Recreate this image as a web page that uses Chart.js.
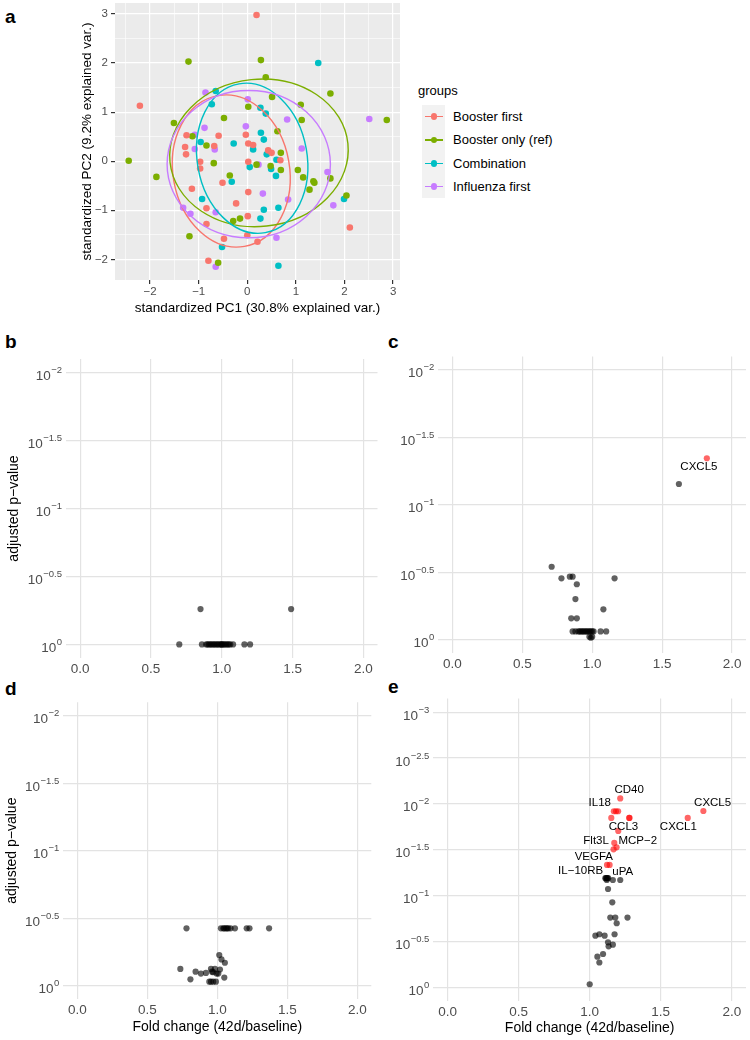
<!DOCTYPE html>
<html>
<head>
<meta charset="utf-8">
<script src="https://cdn.jsdelivr.net/npm/chart.js@4.4.1/dist/chart.umd.min.js"></script>
<style>
  body { margin: 0; width: 750px; height: 1040px; background: #fff; position: relative; overflow: hidden;
         font-family: "Liberation Sans", Arial, sans-serif; }
  canvas { position: absolute; }
  .tag { position: absolute; font-weight: bold; font-size: 19px; line-height: 19px; color: #000; }
  .legend-title { position: absolute; left: 418px; top: 83px; font-size: 13px; line-height: 15px; }
  .legend-keys { position: absolute; left: 422px; top: 105px; width: 23px; height: 93px; background: #F2F2F2; }
  .legend-item { position: absolute; left: 0; height: 23.3px; width: 200px; }
  .legend-item .line { position: absolute; left: 3px; width: 18px; height: 1.4px; top: 11px; }
  .legend-item .dot { position: absolute; left: 8.5px; top: 8.4px; width: 6.6px; height: 6.6px; border-radius: 50%; }
  .legend-item .txt { position: absolute; left: 31px; top: 0; font-size: 13px; line-height: 23.3px; white-space: nowrap; }
</style>
</head>
<body>
<div class="tag" style="left:5px;top:7px">a</div>
<div class="tag" style="left:5px;top:332px">b</div>
<div class="tag" style="left:388px;top:332px">c</div>
<div class="tag" style="left:5px;top:679px">d</div>
<div class="tag" style="left:388px;top:677px">e</div>

<canvas id="pca" width="340" height="330" style="left:70px;top:-10px"></canvas>
<div class="legend-title">groups</div>
<div class="legend-keys" id="legend"></div>

<canvas id="panelB" width="390" height="350" style="left:0px;top:340px"></canvas>
<canvas id="panelC" width="375" height="350" style="left:375px;top:340px"></canvas>
<canvas id="panelD" width="385" height="360" style="left:0px;top:680px"></canvas>
<canvas id="panelE" width="375" height="360" style="left:375px;top:680px"></canvas>

<script>
const FONT = '"Liberation Sans", Arial, sans-serif'

// ---- panel a: PCA ----
const groupNames = ['Booster first', 'Booster only (ref)', 'Combination', 'Influenza first']
const groupColors = ['#F8766D', '#7CAE00', '#00BFC4', '#C77CFF']

const boosterFirstPC1 = [0.19, -2.21, -1.25, -1.28, -1.26, -0.97, -0.97, -0.68, -0.59, -1.14, -0.51, -0.84, -0.84, -0.48, -0.80, -0.23, -0.03, 0.02, 0.12, 0.02, 0.02, 0.01, 0.00, 0.21, 0.43, 0.50, 0.68, 2.11]
const boosterFirstPC2 = [2.98, 1.13, 0.53, 0.29, 0.14, -0.01, -0.15, 0.31, 0.52, -0.56, -0.44, -0.96, -1.28, -1.58, -2.03, -0.86, 0.54, 0.36, 0.33, -0.01, -0.63, -1.12, -1.51, -1.64, 0.22, 0.17, 0.02, -1.35]
const boosterOnlyPC1 = [-2.44, -1.87, -1.51, -1.21, -1.19, -1.13, -0.84, -0.69, -0.48, -0.36, -0.29, -0.15, -0.60, 0.02, 0.19, 0.28, 0.38, 0.51, 0.62, 0.48, 0.69, 0.69, 1.04, 1.10, 1.12, 1.15, 1.28, 1.36, 1.38, 1.71, 1.71, 2.04, 2.87]
const boosterOnlyPC2 = [0.01, -0.32, 0.78, 2.03, -1.53, 0.51, 0.32, -0.04, 0.88, -0.29, -1.22, -1.17, -2.07, 1.11, -0.07, 2.06, 1.71, 1.31, 0.61, -0.10, -0.18, 0.17, -0.18, 1.15, 0.84, -0.33, -0.58, -0.41, -0.44, 1.38, -0.35, -0.70, 0.84]
const combinationPC1 = [-0.65, -0.73, -0.96, -0.93, -0.52, -0.28, -0.32, 0.05, 0.12, 0.27, 0.38, 0.28, 0.34, 0.40, 0.49, 0.59, 0.60, 0.34, 0.27, 0.64, 0.64, 1.46, 1.99]
const combinationPC2 = [1.43, 1.16, 0.39, -0.77, -1.75, 0.36, -0.42, -0.12, 0.24, 1.09, 0.97, 0.58, 0.44, 0.14, -0.16, -0.30, 0.03, -0.99, -1.17, -0.95, -2.13, 2.00, -0.77]
const influenzaFirstPC1 = [-0.86, -0.88, -1.08, -1.08, -0.67, -1.32, -1.17, -0.65, -0.65, 0.01, -0.03, 0.23, 0.32, 0.60, 0.82, 0.84, 1.12, 1.65, 1.77, 2.51]
const influenzaFirstPC2 = [1.40, 0.68, 0.54, 0.25, 0.24, -0.95, -1.07, -1.04, -2.15, 1.26, 0.71, -0.07, -0.66, -1.56, 0.85, -0.78, 0.26, -0.22, -0.90, 0.86]

// normal-data ellipses, one per group (centre, semi-axes in PC units, tilt in degrees)
const ellipseCx = [-0.33, 0.24, 0.10, 0.03]
const ellipseCy = [-0.20, 0.17, 0.06, -0.06]
const ellipseRx = [1.20, 1.84, 1.13, 1.68]
const ellipseRy = [1.56, 1.50, 1.54, 1.50]
const ellipseTilt = [-10, -6, -10, 0]

const pcaTicks = [-2, -1, 0, 1, 2, 3]

// ---- panels b-e: fold change vs adjusted p-value (stored as -log10 p) ----
const foldTicks = [0, 0.5, 1, 1.5, 2]
const expTicksBCD = [0, 0.5, 1, 1.5, 2]
const expTicksE = [0, 0.5, 1, 1.5, 2, 2.5, 3]

const bFold = [0.70, 0.86, 0.89, 0.90, 0.91, 0.92, 0.93, 0.94, 0.95, 0.96, 0.97, 0.98, 0.99, 1.00, 1.00, 1.01, 1.02, 1.03, 1.04, 1.05, 1.06, 1.08, 1.16, 1.20, 0.85, 1.49]
const bNegLogP = [0, 0, 0, 0, 0, 0, 0, 0, 0, 0, 0, 0, 0, 0, 0, 0, 0, 0, 0, 0, 0, 0, 0, 0, 0.26, 0.26]

const cFold = [1.62, 0.71, 0.78, 0.84, 0.86, 0.89, 0.88, 1.16, 1.08, 0.85, 0.89, 0.86, 0.88, 0.90, 0.91, 0.92, 0.93, 0.94, 0.95, 0.96, 0.97, 0.98, 0.99, 1.00, 1.01, 1.06, 1.10, 0.98, 0.99, 1.00]
const cNegLogP = [1.154, 0.54, 0.454, 0.466, 0.466, 0.41, 0.30, 0.454, 0.224, 0.157, 0.157, 0.06, 0.06, 0.06, 0.06, 0.06, 0.06, 0.06, 0.06, 0.06, 0.06, 0.06, 0.06, 0.06, 0.06, 0.06, 0.06, 0.02, 0.013, 0.02]
const cSigFold = [1.82]
const cSigNegLogP = [1.345]
const cLabelText = ['CXCL5']
const cLabelFold = [1.763]
const cLabelNegLogP = [1.282]

const dFold = [0.78, 1.026, 1.043, 1.05, 1.062, 1.07, 1.079, 1.095, 1.126, 1.21, 1.23, 1.37, 0.736, 0.808, 0.845, 0.883, 0.919, 0.955, 0.962, 0.943, 0.955, 0.971, 0.99, 0.995, 1.019, 1.014, 1.03, 1.054, 1.05, 0.983, 1.007, 0.97]
const dNegLogP = [0.425, 0.425, 0.425, 0.425, 0.425, 0.425, 0.425, 0.425, 0.425, 0.425, 0.425, 0.425, 0.124, 0.047, 0.104, 0.09, 0.095, 0.124, 0.104, 0.03, 0.03, 0.03, 0.03, 0.09, 0.12, 0.227, 0.195, 0.17, 0.06, 0.124, 0.09, 0.10]

const eFold = [1.11, 1.115, 1.12, 1.125, 1.13, 1.12, 1.163, 1.215, 1.129, 1.159, 1.145, 1.18, 1.266, 1.19, 1.04, 1.068, 1.105, 1.175, 1.129, 1.133, 1.163, 1.094, 1.054, 1.068, 1.0]
const eNegLogP = [1.19, 1.19, 1.19, 1.19, 1.19, 1.17, 1.17, 1.17, 1.072, 0.927, 0.76, 0.76, 0.76, 0.698, 0.563, 0.578, 0.563, 0.578, 0.49, 0.447, 0.465, 0.363, 0.334, 0.27, 0.033]
const eSigFold = [1.215, 1.17, 1.185, 1.2, 1.152, 1.278, 1.28, 1.201, 1.173, 1.189, 1.168, 1.122, 1.14, 1.69, 1.80]
const eSigNegLogP = [2.06, 1.92, 1.92, 1.92, 1.847, 1.847, 1.847, 1.705, 1.574, 1.527, 1.505, 1.334, 1.334, 1.847, 1.923]
const eLabelText = ['CD40', 'IL18', 'CCL3', 'Flt3L', 'MCP\u22122', 'VEGFA', 'IL\u221210RB', 'uPA', 'CXCL1', 'CXCL5']
const eLabelFold = [1.278, 1.071, 1.238, 1.045, 1.338, 1.029, 0.936, 1.233, 1.624, 1.865]
const eLabelNegLogP = [2.154, 2.007, 1.752, 1.599, 1.599, 1.425, 1.269, 1.261, 1.745, 2.007]

function toPoints(xs, ys) {
    return xs.map((v, i) => ({x: v, y: ys[i]}))
}
function minus(v) {
    return String(v).replace('-', '\u2212')
}

// gray panel background for the PCA plot
const panelBackground = {
    id: 'panelBackground',
    beforeDraw(chart) {
        const {ctx, chartArea: a} = chart
        ctx.save()
        ctx.fillStyle = '#EBEBEB'
        ctx.fillRect(a.left, a.top, a.width, a.height)
        ctx.restore()
    }
}

const groupEllipses = {
    id: 'groupEllipses',
    afterDatasetsDraw(chart) {
        const {ctx, chartArea: a, scales: {x, y}} = chart
        ctx.save()
        ctx.beginPath()
        ctx.rect(a.left, a.top, a.width, a.height)
        ctx.clip()
        ctx.lineWidth = 1.4
        for (let i = 0; i < groupNames.length; i++) {
            const cx = x.getPixelForValue(ellipseCx[i])
            const cy = y.getPixelForValue(ellipseCy[i])
            const rx = x.getPixelForValue(ellipseCx[i] + ellipseRx[i]) - cx
            const ry = cy - y.getPixelForValue(ellipseCy[i] + ellipseRy[i])
            ctx.strokeStyle = groupColors[i]
            ctx.beginPath()
            ctx.ellipse(cx, cy, rx, ry, ellipseTilt[i] * Math.PI / 180, 0, 2 * Math.PI)
            ctx.stroke()
        }
        ctx.restore()
    }
}

// y tick labels as 10^-x with a raised exponent
const powerTicks = {
    id: 'powerTicks',
    afterDraw(chart) {
        const {ctx, chartArea: a, scales: {y}} = chart
        ctx.save()
        ctx.fillStyle = '#4D4D4D'
        ctx.textAlign = 'left'
        ctx.textBaseline = 'alphabetic'
        for (const t of y.ticks) {
            const py = y.getPixelForValue(t.value)
            const exp = t.value === 0 ? '0' : '\u2212' + t.value
            ctx.font = '9.5px ' + FONT
            const ew = ctx.measureText(exp).width
            ctx.font = '13.5px ' + FONT
            const bw = ctx.measureText('10').width
            const right = a.left - 4
            ctx.fillText('10', right - ew - bw - 0.5, py + 7.5)
            ctx.font = '9.5px ' + FONT
            ctx.fillText(exp, right - ew, py + 0.5)
        }
        ctx.restore()
    }
}

const geneLabels = {
    id: 'geneLabels',
    afterDatasetsDraw(chart, args, opts) {
        if (!opts.text) return
        const {ctx, scales: {x, y}} = chart
        ctx.save()
        ctx.fillStyle = '#000'
        ctx.font = '11.5px ' + FONT
        ctx.textAlign = 'center'
        ctx.textBaseline = 'middle'
        opts.text.forEach((t, i) => {
            ctx.fillText(t, x.getPixelForValue(opts.fold[i]), y.getPixelForValue(opts.negLogP[i]))
        })
        ctx.restore()
    }
}

// ---- panel a ----
const pcaGroups = [
    [boosterFirstPC1, boosterFirstPC2],
    [boosterOnlyPC1, boosterOnlyPC2],
    [combinationPC1, combinationPC2],
    [influenzaFirstPC1, influenzaFirstPC2]
]

function withMinor(majors, lo, hi) {
    let all = []
    for (const v of majors) {
        all.push(v - 0.5, v)
    }
    all.push(majors[majors.length - 1] + 0.5)
    return all.filter(v => v >= lo && v <= hi).map(v => ({value: v}))
}

function pcaAxis(min, max, titleText, titlePad, labelPad) {
    return {
        type: 'linear', min: min, max: max,
        afterBuildTicks: s => { s.ticks = withMinor(pcaTicks, min, max) },
        grid: {
            color: '#FFFFFF',
            lineWidth: c => Number.isInteger(c.tick.value) ? 1.2 : 0.6,
            tickColor: c => Number.isInteger(c.tick.value) ? '#333333' : 'rgba(0,0,0,0)',
            tickLength: 4
        },
        border: {display: false},
        ticks: {
            autoSkip: false, maxRotation: 0, padding: labelPad,
            color: '#4D4D4D', font: {size: 11.5, family: FONT},
            callback: v => Number.isInteger(v) ? minus(v) : ''
        },
        title: {display: true, text: titleText, color: '#000', font: {size: 13.5, family: FONT}, padding: titlePad}
    }
}

const xA = pcaAxis(-2.722, 3.142, 'standardized PC1 (30.8% explained var.)', {top: 0, bottom: 4}, 1)
xA.afterFit = s => { s.height = 40 }
const yA = pcaAxis(-2.421, 3.224, 'standardized PC2 (9.2% explained var.)', {top: 9, bottom: 0}, 3)
yA.afterFit = s => { s.width = 45 }

new Chart(document.getElementById('pca'), {
    type: 'scatter',
    data: {
        datasets: pcaGroups.map((g, i) => ({
            label: groupNames[i],
            data: toPoints(g[0], g[1]),
            backgroundColor: groupColors[i],
            pointRadius: 3.3,
            pointBorderWidth: 0
        }))
    },
    options: {
        responsive: false,
        animation: false,
        layout: {padding: {top: 13, right: 10, left: 0, bottom: 0}},
        plugins: {legend: {display: false}, tooltip: {enabled: false}},
        scales: {x: xA, y: yA}
    },
    plugins: [panelBackground, groupEllipses]
})

// html legend
const legend = document.getElementById('legend')
groupNames.forEach((name, i) => {
    const item = document.createElement('div')
    item.className = 'legend-item'
    item.style.top = (i * 23.3) + 'px'
    item.innerHTML = '<div class="line" style="background:' + groupColors[i] + '"></div>' +
        '<div class="dot" style="background:' + groupColors[i] + '"></div>' +
        '<div class="txt">' + name + '</div>'
    legend.appendChild(item)
})

// ---- panels b-e ----
function volcano(id, gray, red, labels, yTicks, yMin, yMax, box) {
    let datasets = [{
        data: toPoints(gray[0], gray[1]),
        backgroundColor: 'rgba(0,0,0,0.62)',
        pointRadius: 3.1,
        pointBorderWidth: 0
    }]
    if (red) {
        datasets.push({
            data: toPoints(red[0], red[1]),
            backgroundColor: 'rgba(255,0,0,0.6)',
            pointRadius: 3.1,
            pointBorderWidth: 0
        })
    }
    new Chart(document.getElementById(id), {
        type: 'scatter',
        data: {datasets: datasets},
        options: {
            responsive: false,
            animation: false,
            layout: {padding: {top: box.top, right: box.right, left: 0, bottom: 0}},
            plugins: {
                legend: {display: false},
                tooltip: {enabled: false},
                geneLabels: labels ? {text: labels[0], fold: labels[1], negLogP: labels[2]} : {}
            },
            scales: {
                x: {
                    type: 'linear', min: -0.1, max: 2.1,
                    afterBuildTicks: s => { s.ticks = foldTicks.map(v => ({value: v})) },
                    afterFit: s => { s.height = box.xHeight },
                    grid: {color: '#E3E3E3', lineWidth: 1.2, drawTicks: false},
                    border: {display: false},
                    ticks: {
                        autoSkip: false, maxRotation: 0, padding: 3,
                        color: '#4D4D4D', font: {size: 13.5, family: FONT},
                        callback: v => v.toFixed(1)
                    },
                    title: {
                        display: box.xTitle, text: 'Fold change (42d/baseline)', color: '#000',
                        font: {size: 14, family: FONT}, padding: {top: 0, bottom: box.xTitlePad}
                    }
                },
                y: {
                    type: 'linear', min: yMin, max: yMax,
                    afterBuildTicks: s => { s.ticks = yTicks.map(v => ({value: v})) },
                    afterFit: s => { s.width = box.yWidth },
                    grid: {color: '#E3E3E3', lineWidth: 1.2, drawTicks: false},
                    border: {display: false},
                    ticks: {display: false},
                    title: {
                        display: box.yTitle, text: 'adjusted p\u2212value', color: '#000',
                        font: {size: 14, family: FONT}, padding: {top: box.yTitlePad, bottom: 0}
                    }
                }
            }
        },
        plugins: [powerTicks, geneLabels]
    })
}

volcano('panelB', [bFold, bNegLogP], null, null, expTicksBCD, -0.1, 2.1,
    {top: 19, right: 12.5, yWidth: 66, xHeight: 32, xTitle: false, yTitle: true, yTitlePad: 5.3, xTitlePad: 0})
volcano('panelC', [cFold, cNegLogP], [cSigFold, cSigNegLogP], [cLabelText, cLabelFold, cLabelNegLogP], expTicksBCD, -0.1, 2.1,
    {top: 16.5, right: 2.7, yWidth: 63.4, xHeight: 37, xTitle: false, yTitle: false, yTitlePad: 0, xTitlePad: 0})
volcano('panelD', [dFold, dNegLogP], null, null, expTicksBCD, -0.1, 2.1,
    {top: 22.2, right: 13.7, yWidth: 63.3, xHeight: 40.8, xTitle: true, yTitle: true, yTitlePad: 3.3, xTitlePad: 4.9})
volcano('panelE', [eFold, eNegLogP], [eSigFold, eSigNegLogP], [eLabelText, eLabelFold, eLabelNegLogP], expTicksE, -0.15, 3.15,
    {top: 18.5, right: 1.7, yWidth: 58.4, xHeight: 39, xTitle: true, yTitle: false, yTitlePad: 0, xTitlePad: 3.6})
</script>
</body>
</html>
